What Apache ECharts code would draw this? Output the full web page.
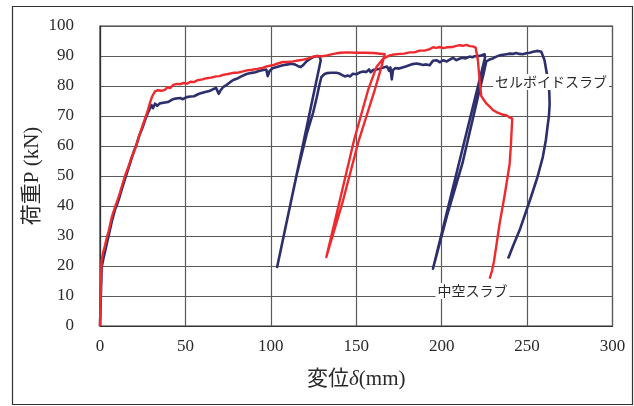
<!DOCTYPE html>
<html>
<head>
<meta charset="utf-8">
<script src="https://cdn.jsdelivr.net/npm/echarts@6/dist/echarts.min.js"></script>
<style>
html,body{margin:0;padding:0;background:#fff;}
#chart{width:634px;height:406px;}
</style>
</head>
<body>
<div id="chart"></div>
<script>
// ---- axis ticks ----
const xTicks = [0, 50, 100, 150, 200, 250, 300];
const yTicks = [0, 10, 20, 30, 40, 50, 60, 70, 80, 90, 100];

// ---- セルボイドスラブ (navy) : [displacement mm, load kN] ----
const celvoidLoad1 = [[0,0],[0.5,10],[1,19.7],[2,22.5],[2.9,24.7],[4,27.5],[5.8,32],[7,35],[8.8,38.8],[10,40.5],[11.7,43.5],[13,46],[14.6,49],[16.6,52.5],[18,55],[20,58.5],[21.4,60.5],[23,63.5],[24.8,66],[26.3,68.5],[28,71],[29.2,72.5],[30.2,73.6],[31,72.6],[32.2,74.1],[33.5,73.4],[35,74.2],[36,73.8],[38,74.5],[40,74.7],[42,75.4],[43.9,75.8],[45,75.3],[47,76],[48.5,75.6],[50.7,76.3],[53,76.5],[55,76.6],[58,77.4],[61,77.9],[64,78.3],[66,78.9],[68,79.3],[69.5,77.4],[70.5,78.5],[72,79.6],[74,80.3],[76,81.2],[78,82],[80,82.4],[83,83.3],[85.8,84],[88,84.3],[91,84.6],[93,85],[95.5,85.3],[97.3,85.5],[98.2,83.3],[99.2,84.9],[101,85.9],[104,86.4],[107,86.9],[110,87.2],[112,87.4],[114,87.2],[116,86.6],[117.5,86.3],[119,87],[121,88.3],[123,89],[125,89.7],[127,90],[128.7,89.7]];
const celvoidUnload1 = [[129.2,88.5],[103.7,19.7]];
const celvoidLoad2 = [[109,34],[115.3,50.8],[121,64],[124.7,71],[126.8,76],[128.3,80],[129.6,83],[131.5,84],[133,84.3],[135,84.4],[138.4,84.4],[140,84.2],[141.5,83.7],[143.3,83.2],[145,83.5],[146.5,83.2],[148,84.1],[150,83.9],[152,84.5],[154,84.8],[156,84.7],[157.5,85.5],[158.5,84.6],[160,85.4],[161,84.8],[162,85.5],[164,85.8],[166,86.2],[168,86.5],[169.3,85],[170,86.2],[170.8,82.2],[171.5,85.3],[173,86],[175,85.8],[177,86.2],[179,86.5],[181,86.9],[183,87.3],[185.2,87.5],[187.1,87.3],[189,87],[191,87.2],[193,86.9],[194.9,88.4],[197,88.6],[199,87.9],[200.8,88.6],[203,88.2],[205,88.9],[206.6,89.4],[208.6,88.6],[210,89],[212,89.4],[214,89.2],[216.4,89.8],[218,89.6],[219.3,89.9],[221,89.9],[223,90.2],[225.1,90.6]];
const celvoidUnload2 = [[225.4,89.5],[194.9,19.1]];
const celvoidLoad3 = [[203,36.5],[212.1,54.1],[221.2,76.3],[224.5,84],[226.1,88.2],[228,88.8],[230,89.2],[232,89.8],[233.9,90.2],[236,90.4],[238,90.6],[240,90.8],[241.7,90.7],[243.6,91],[245.5,90.7],[247.5,90.6],[249.5,90.9],[251.5,91.1],[253.5,91.4],[256.3,91.7],[258.3,91.4],[259.3,90],[260.2,88.6],[261.3,85],[262.2,81.9],[263,78],[263.2,74],[262.8,70],[262.2,67.5],[261,62],[259.2,56.3],[256,49.5],[252.3,43],[249,37.5],[245.6,31.9],[242,27],[238.9,22.5]];

// ---- 中空スラブ (red) : [displacement mm, load kN] ----
const hollowLoad1 = [[0,0],[0.3,8],[0.6,16],[1,21.9],[1.8,24.5],[2.9,26.8],[4,29.5],[5,31.5],[5.8,33.5],[7,36.5],[8.8,39.7],[10,41.5],[11.7,44.5],[13,47],[14.6,50],[16.6,53],[18,55.5],[19.8,58],[21.4,60.5],[23,63.5],[24.8,66.5],[26.3,69],[27.8,71.5],[29.2,74.3],[30.5,76.5],[32.2,78.2],[34,78.6],[36,78.4],[38,78.7],[39.5,79.6],[41,79.3],[42.9,80.4],[45,80.7],[47,80.6],[49,81],[51,80.8],[53,81.4],[55,81.3],[57,81.9],[60,82.2],[62.4,82.6],[65,82.8],[68,83.2],[70,83.3],[72,83.7],[75,84],[78,84.4],[80,84.4],[83.8,84.9],[86,85.2],[89,85.4],[92,85.7],[95.5,86.1],[98,86.6],[101,86.9],[104,87.5],[107,88],[110,88],[113,88.2],[116,88.5],[119,88.8],[122,89.2],[124.8,89.8],[127,90],[130,89.9],[133,90.2],[136,90.6],[138.4,90.9],[141,91.1],[144.3,91.2],[150,91.1],[155,91.1],[160,91],[166.7,90.6]];
const hollowUnload1 = [[166.2,89.5],[164.7,86.3],[160.8,78.6],[151.5,61.9],[142.3,41.9],[132.5,23]];
const hollowLoad2 = [[140.4,41.9],[148.7,61.9],[156.9,78.6],[161.8,86.3],[165.7,89.1],[169.6,90.2],[171,90.4],[175.4,90.7],[178,90.8],[181.3,91.2],[184,91.2],[187.1,91.8],[190,91.8],[193,92.3],[195,92.9],[197,92.7],[198.8,93],[201,92.6],[203,92.9],[206.6,93],[208,93.3],[210.5,93.6],[212.5,93.4],[214.4,93.7],[216.4,93.3],[218.3,93.2],[219.9,92.8],[221.2,88.6],[222.2,82],[223.2,76.6],[224.5,75.5],[226.1,74.2],[228,73.2],[230,72],[232,71.3],[233.9,70.9],[236,70.4],[237.8,70.3],[239.5,69.6],[241.3,69.1],[240.5,60],[239.8,54.1],[237,44],[233.9,34.1],[231.8,26],[230.6,21.5],[229.5,18.5],[228.1,15.8]];

const celvoidData = [].concat(celvoidLoad1, celvoidUnload1, celvoidLoad2, celvoidUnload2, celvoidLoad3);
const hollowData = [].concat(hollowLoad1, hollowUnload1, hollowLoad2);

const serif = "'Liberation Serif','Noto Sans CJK JP',serif";
const textColor = '#2a2a2a';
const gridColor = '#5a5a5a';

const chart = echarts.init(document.getElementById('chart'), null, {renderer: 'canvas'});
chart.setOption({
  animation: false,
  backgroundColor: '#ffffff',
  grid: {left: 100, top: 26, right: 21.5, bottom: 80, show: true, borderColor: '#333', borderWidth: 1.2, backgroundColor: 'transparent'},
  xAxis: {
    type: 'value', min: xTicks[0], max: xTicks[xTicks.length - 1], interval: xTicks[1] - xTicks[0],
    axisLine: {show: true, onZero: false, lineStyle: {color: '#333', width: 1.2}},
    axisTick: {show: false},
    splitLine: {show: true, lineStyle: {color: gridColor, width: 1.2}},
    axisLabel: {fontFamily: serif, fontSize: 17, color: textColor, margin: 12},
    name: '変位{i|δ}(mm)', nameLocation: 'middle', nameGap: 43, nameMoveOverlap: false,
    nameTextStyle: {fontFamily: serif, fontSize: 21, color: textColor,
      rich: {i: {fontFamily: serif, fontSize: 21, fontStyle: 'italic', color: textColor}}}
  },
  yAxis: {
    type: 'value', min: yTicks[0], max: yTicks[yTicks.length - 1], interval: yTicks[1] - yTicks[0],
    axisLine: {show: true, onZero: false, lineStyle: {color: '#333', width: 1.2}},
    axisTick: {show: false},
    splitLine: {show: true, lineStyle: {color: gridColor, width: 1.2}},
    axisLabel: {fontFamily: serif, fontSize: 17, color: textColor, margin: 26},
    name: '荷重P (kN)', nameLocation: 'middle', nameGap: 57, nameRotate: 90, nameMoveOverlap: false,
    nameTextStyle: {fontFamily: serif, fontSize: 21, color: textColor}
  },
  series: [
    {name: 'セルボイドスラブ', type: 'line', data: celvoidData, showSymbol: false, symbol: 'none',
     lineStyle: {color: '#2c2f6c', width: 2.6, join: 'round'}, z: 2},
    {name: '中空スラブ', type: 'line', data: hollowData, showSymbol: false, symbol: 'none',
     lineStyle: {color: '#ee2a2e', width: 2.4, join: 'round'}, z: 3}
  ],
  graphic: [
    {type: 'rect', left: 10, top: 4, shape: {width: 620, height: 398}, style: {fill: 'none', stroke: '#333', lineWidth: 1.2}, silent: true, z: 100},
    {type: 'text', x: 551, y: 82, z: 100, style: {text: 'セルボイドスラブ', fontFamily: "'Noto Sans CJK JP'", fontSize: 14, fill: textColor, align: 'center', verticalAlign: 'middle', backgroundColor: '#fff', padding: [1, 2]}},
    {type: 'text', x: 472.5, y: 291, z: 100, style: {text: '中空スラブ', fontFamily: "'Noto Sans CJK JP'", fontSize: 14, fill: textColor, align: 'center', verticalAlign: 'middle', backgroundColor: '#fff', padding: [1, 2]}}
  ]
});
</script>
</body>
</html>
